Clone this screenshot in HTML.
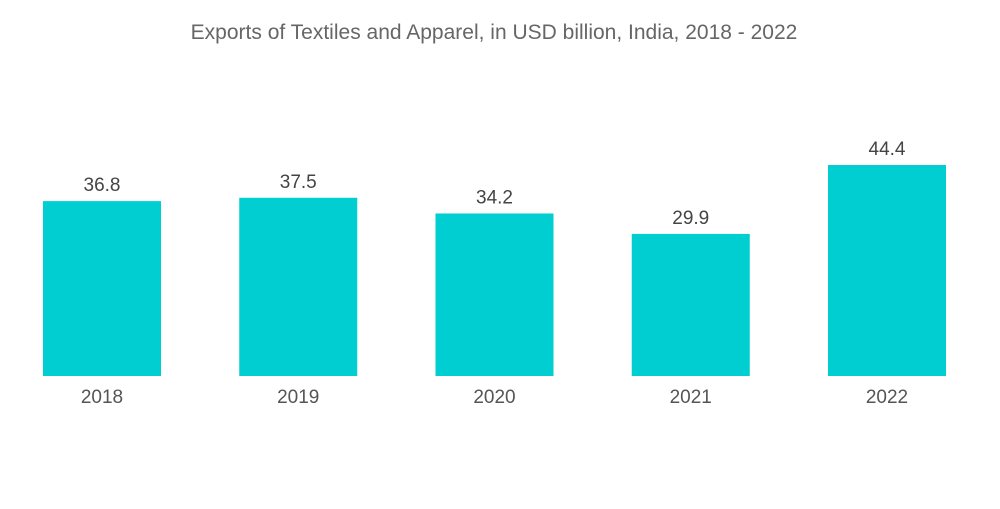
<!DOCTYPE html>
<html><head><meta charset="utf-8"><style>
body{margin:0;background:#fff;width:1000px;height:504px;overflow:hidden;font-family:"Liberation Sans",sans-serif}
</style></head><body>
<svg width="1000" height="504">
<text x="494" y="39" text-anchor="middle" font-size="21" fill="#666">Exports of Textiles and Apparel, in USD billion, India, 2018 - 2022</text>
<g id="bars"></g>
</svg>
<script>
const categories=["2018","2019","2020","2021","2022"];
const values=[36.8,37.5,34.2,29.9,44.4];
const labels=["36.8","37.5","34.2","29.9","44.4"];
const base=376, scale=211/44.4;
const x=i=>43+i*196.25, y=v=>base-v*scale;
const g=document.getElementById('bars'), ns="http://www.w3.org/2000/svg";
categories.forEach((c,i)=>{
 const r=document.createElementNS(ns,'rect');
 r.setAttribute('x',x(i));r.setAttribute('y',y(values[i]));r.setAttribute('width',118);r.setAttribute('height',base-y(values[i]));r.setAttribute('fill','#00ced1');
 
 
 g.appendChild(r);
 const t=document.createElementNS(ns,'text');
 t.setAttribute('x',x(i)+59);t.setAttribute('y',y(values[i])-10);t.setAttribute('text-anchor','middle');t.setAttribute('font-size','19');t.setAttribute('fill','#444');t.textContent=labels[i];
 
 
 g.appendChild(t);
 const l=document.createElementNS(ns,'text');
 l.setAttribute('x',x(i)+59);l.setAttribute('y',403);l.setAttribute('text-anchor','middle');l.setAttribute('font-size','19');l.setAttribute('fill','#555');l.textContent=c;
 
 
 g.appendChild(l);
});
</script>
</body></html>
